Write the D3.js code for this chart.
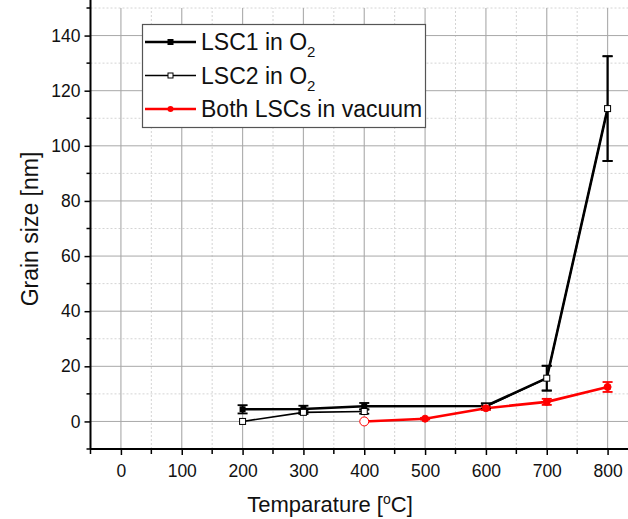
<!DOCTYPE html>
<html><head><meta charset="utf-8">
<script src="https://cdn.jsdelivr.net/npm/d3@7"></script>
<style>body{margin:0;background:#fff}svg{display:block}text{font-family:"Liberation Sans",Arial,sans-serif}</style>
</head><body><svg id="c" width="628" height="519"></svg>
<script>
const temps = [200, 300, 400, 500, 600, 700, 800];
const lsc1 = [4.4, 4.5, 5.5, null, 5.6, 15.7, 113.5];
const lsc1Err = [1.5, 1.2, 1.2, null, 1.0, 4.5, 19];
const lsc2 = [0, 3.3, 3.6, null, 5.4, 15.7, 113.5];
const lsc2Err = [0, 0.6, 0.8, null, 1.0, 4.5, 19];
const vac = [null, null, 0, 1.0, 4.8, 7.1, 12.5];
const vacErr = [null, null, 0, 0.3, 0.6, 1.1, 1.8];
const xTicks = [0, 100, 200, 300, 400, 500, 600, 700, 800];
const yTicks = [0, 20, 40, 60, 80, 100, 120, 140];

const svg = d3.select("#c");
const x = d3.scaleLinear().domain([-50, 850]).range([90.5, 638]);
const y = d3.scaleLinear().domain([-10, 150]).range([449, 8]);

// grid
const g = svg.append("g");
const xMinor = d3.range(-50, 851, 50).filter(v => v % 100 !== 0);
const yMinor = d3.range(-10, 151, 20);
g.selectAll(".vm").data(xMinor).enter().append("line")
  .attr("x1", d => x(d)).attr("x2", d => x(d)).attr("y1", y(-10)).attr("y2", y(150))
  .attr("stroke", "#d4d4d4").attr("stroke-dasharray", "2,2");
g.selectAll(".hm").data(yMinor).enter().append("line")
  .attr("x1", x(-50)).attr("x2", 628).attr("y1", d => y(d)).attr("y2", d => y(d))
  .attr("stroke", "#d4d4d4").attr("stroke-dasharray", "2,2");
g.selectAll(".v").data(xTicks).enter().append("line")
  .attr("x1", d => x(d)).attr("x2", d => x(d)).attr("y1", y(-10)).attr("y2", y(150))
  .attr("stroke", "#b0b0b0").attr("stroke-width", 1.2);
g.selectAll(".h").data(yTicks).enter().append("line")
  .attr("x1", x(-50)).attr("x2", 628).attr("y1", d => y(d)).attr("y2", d => y(d))
  .attr("stroke", "#a8a8a8").attr("stroke-width", 1);

// axes
const xAxis = d3.axisBottom(x).tickValues(xTicks).tickSize(6).tickPadding(10);
const ya = d3.axisLeft(y).tickValues(yTicks).tickSize(6).tickPadding(4);
const xg = svg.append("g").attr("transform", `translate(0,${y(-10)})`).call(xAxis);
const yg = svg.append("g").attr("transform", `translate(${x(-50)},0)`).call(ya);
[xg, yg].forEach(a => {
  a.select(".domain").attr("stroke", "#000").attr("stroke-width", 2);
  a.selectAll(".tick line").attr("stroke", "#000").attr("stroke-width", 1.5);
  a.selectAll(".tick text").attr("font-size", 17.5).attr("fill", "#111")
   .style("font-family", '"Liberation Sans",Arial,sans-serif');
});
xg.select(".domain").attr("d", `M${x(-50)},0H628`);
yg.select(".domain").attr("d", `M0,${y(-10)}V0`);
// minor ticks
svg.append("g").selectAll("line").data(xMinor).enter().append("line")
  .attr("x1", d => x(d)).attr("x2", d => x(d)).attr("y1", y(-10)).attr("y2", y(-10) + 5)
  .attr("stroke", "#000").attr("stroke-width", 1.5);
svg.append("g").selectAll("line").data(yMinor).enter().append("line")
  .attr("y1", d => y(d)).attr("y2", d => y(d)).attr("x1", x(-50) - 4).attr("x2", x(-50))
  .attr("stroke", "#000").attr("stroke-width", 1.5);

// titles
svg.append("text").attr("x", 330).attr("y", 512).attr("text-anchor", "middle")
  .attr("font-size", 22).attr("fill", "#111")
  .html('Temparature [<tspan baseline-shift="super" font-size="14">o</tspan>C]');
svg.append("text").attr("transform", "translate(38,229) rotate(-90)").attr("text-anchor", "middle")
  .attr("font-size", 23).attr("fill", "#111").text("Grain size [nm]");

// series
const idx = d3.range(temps.length);
function drawSeries(vals, color, width, connectGaps) {
  const pts = connectGaps ? idx.filter(i => vals[i] !== null) : idx;
  const line = d3.line().defined(i => vals[i] !== null).x(i => x(temps[i])).y(i => y(vals[i]));
  svg.append("path").datum(pts).attr("d", line).attr("fill", "none")
    .attr("stroke", color).attr("stroke-width", width).attr("stroke-linejoin", "round");
}
function drawErr(vals, errs, color, capW) {
  const d = idx.filter(i => vals[i] !== null && errs[i] > 0);
  const eg = svg.append("g").attr("stroke", color).attr("stroke-width", 1.8);
  eg.selectAll(".s").data(d).enter().append("line")
    .attr("x1", i => x(temps[i])).attr("x2", i => x(temps[i]))
    .attr("y1", i => y(vals[i] - errs[i])).attr("y2", i => y(vals[i] + errs[i]));
  [-1, 1].forEach(s => {
    eg.selectAll(".c" + s).data(d).enter().append("line")
      .attr("x1", i => x(temps[i]) - capW).attr("x2", i => x(temps[i]) + capW)
      .attr("y1", i => y(vals[i] + s * errs[i])).attr("y2", i => y(vals[i] + s * errs[i]));
  });
}
drawSeries(lsc2, "#000", 1.6, false);
drawSeries(lsc1, "#000", 2.6, true);
drawSeries(vac, "#ff0000", 2.6, true);
drawErr(lsc1, lsc1Err, "#000", 5);
drawErr(lsc2, lsc2Err, "#000", 5);
drawErr(vac, vacErr, "#ff0000", 5);
// markers
svg.append("g").selectAll("rect").data(idx.filter(i => lsc1[i] !== null && temps[i] <= 400)).enter().append("rect")
  .attr("x", i => x(temps[i]) - 3).attr("y", i => y(lsc1[i]) - 3).attr("width", 6).attr("height", 6)
  .attr("fill", "#000");
svg.append("g").selectAll("rect").data(idx.filter(i => lsc2[i] !== null)).enter().append("rect")
  .attr("x", i => x(temps[i]) - 3).attr("y", i => y(lsc2[i]) - 3).attr("width", 6).attr("height", 6)
  .attr("fill", "#fff").attr("stroke", "#000").attr("stroke-width", 1);
svg.append("g").selectAll("circle").data(idx.filter(i => vac[i] !== null)).enter().append("circle")
  .attr("cx", i => x(temps[i])).attr("cy", i => y(vac[i]))
  .attr("r", i => vac[i] === 0 ? 4.5 : 3.5)
  .attr("fill", i => vac[i] === 0 ? "#fff" : "#ff0000").attr("stroke", "#ff0000").attr("stroke-width", 1);

// legend
const lg = svg.append("g");
lg.append("rect").attr("x", 142.5).attr("y", 24.5).attr("width", 283).attr("height", 103)
  .attr("fill", "#fff").attr("stroke", "#555").attr("stroke-width", 1.2);
const legend = [
  {label: "LSC1 in O", sub: "2", color: "#000", w: 2.6, marker: "fill"},
  {label: "LSC2 in O", sub: "2", color: "#000", w: 1.6, marker: "open"},
  {label: "Both LSCs in vacuum", sub: "", color: "#ff0000", w: 2.6, marker: "circle"}
];
legend.forEach((d, k) => {
  const yy = 42 + k * 33.5;
  lg.append("line").attr("x1", 145).attr("x2", 196).attr("y1", yy).attr("y2", yy)
    .attr("stroke", d.color).attr("stroke-width", d.w);
  if (d.marker === "circle") lg.append("circle").attr("cx", 170.5).attr("cy", yy).attr("r", 3).attr("fill", d.color);
  else lg.append("rect").attr("x", 168).attr("y", yy - 2.5).attr("width", 5).attr("height", 5)
    .attr("fill", d.marker === "fill" ? "#000" : "#fff").attr("stroke", "#000").attr("stroke-width", 1);
  const t = lg.append("text").attr("x", 201).attr("y", yy + 8).attr("font-size", 23).attr("fill", "#111")
    .attr("textLength", null).text(d.label);
  if (d.sub) t.append("tspan").attr("dy", 7).attr("font-size", 15).text(d.sub);
});
</script></body></html>
